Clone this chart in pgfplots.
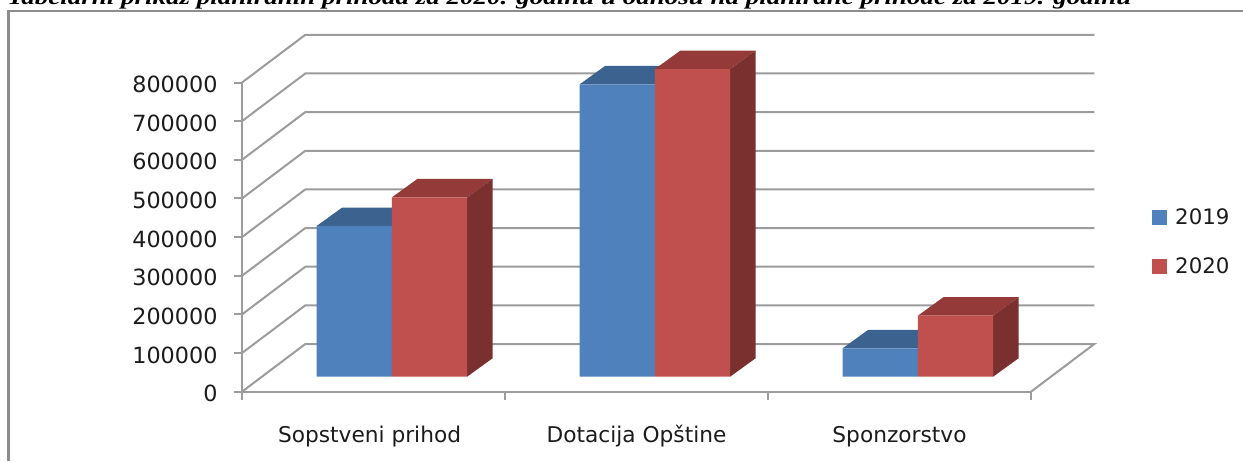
\documentclass[border=0pt]{standalone}
\usepackage{fontspec}
\setmainfont{DejaVu Sans}
\newfontfamily\titlefont{Liberation Serif}
\usepackage{pgfplots}
\pgfplotsset{compat=1.18}

\definecolor{blueface}{HTML}{4F81BD}
\definecolor{bluetop}{HTML}{3C6290}
\definecolor{redface}{HTML}{C0504D}
\definecolor{redtop}{HTML}{943B39}
\definecolor{redside}{HTML}{7A302E}
\definecolor{gridgray}{HTML}{9C9C9C}
\definecolor{inkgray}{HTML}{1C1C1C}

\begin{document}
\begin{tikzpicture}[x=1pt,y=1pt]
\useasboundingbox (0,0) rectangle (1243,461);
\fill[white] (0,0) rectangle (1243,461);
\draw[gridgray!90!black, line width=2.4pt] (8.5,0) -- (8.5,450) -- (1243,450);
\node[anchor=base west, inner sep=0pt, text=black, xscale=1.25] at (7,456.3)
  {\titlefont\bfseries\itshape\fontsize{21.6}{24}\selectfont Tabelarni prikaz planiranih  prihoda za 2020. godinu u odnosu na planirane  prihode za 2019. godinu};

% walls and value axis
\begin{axis}[
    at={(242pt,69.3pt)}, anchor=south west,
    scale only axis, width=789pt, height=309.2pt,
    xmin=0, xmax=3, ymin=0, ymax=800000,
    clip=false,
    axis lines=left,
    axis line style={-, gridgray, line width=2pt},
    every tick/.style={gridgray, line width=2pt},
    tick align=outside,
    major tick length=8pt,
    ytick={0,100000,...,800000},
    scaled y ticks=false,
    xtick={0.485,1.5,2.5},
    xticklabels={Sopstveni prihod,Dotacija Opštine,Sponzorstvo},
    minor xtick={0,1,2,3},
    minor tick length=8pt,
    major x tick style={draw=none},
    tick label style={font=\fontsize{22.3}{24}\selectfont, text=inkgray},
    xticklabel style={font=\fontsize{21.7}{24}\selectfont, yshift=-23pt, text height=16pt, text depth=5pt},
    yticklabel style={/pgf/number format/fixed, /pgf/number format/1000 sep={},
        /pgf/number format/assume math mode=true, xshift=-13pt, yshift=-2pt},
]
\addplot[gridgray, line width=2pt] coordinates {(0,0) (0.2407,123400) (3.2407,123400) (3,0)};
\addplot[gridgray, line width=2pt] coordinates {(0,100000) (0.2407,223400) (3.2407,223400)};
\addplot[gridgray, line width=2pt] coordinates {(0,200000) (0.2407,323400) (3.2407,323400)};
\addplot[gridgray, line width=2pt] coordinates {(0,300000) (0.2407,423400) (3.2407,423400)};
\addplot[gridgray, line width=2pt] coordinates {(0,400000) (0.2407,523400) (3.2407,523400)};
\addplot[gridgray, line width=2pt] coordinates {(0,500000) (0.2407,623400) (3.2407,623400)};
\addplot[gridgray, line width=2pt] coordinates {(0,600000) (0.2407,723400) (3.2407,723400)};
\addplot[gridgray, line width=2pt] coordinates {(0,700000) (0.2407,823400) (3.2407,823400)};
\addplot[gridgray, line width=2pt] coordinates {(0,800000) (0.2407,923400) (3.2407,923400)};
\end{axis}

% bars: zero sits on the raised floor, depth is 0.0966 across and 47600 up
\begin{axis}[
    at={(242pt,69.3pt)}, anchor=south west,
    scale only axis, width=789pt, height=309.2pt,
    xmin=0, xmax=3, ymin=-38810, ymax=761190,
    clip=false,
    hide axis,
    legend style={draw=none, fill=none, inner sep=0pt, font=\fontsize{21.3}{24}\selectfont, text=inkgray,
        at={(rel axis cs:1.1534,0.6)}, anchor=north west,
        row sep=28pt, /tikz/every odd column/.append style={column sep=6pt}},
    legend cell align=left,
]
% blue tops
\addplot[fill=bluetop, draw=none, forget plot] coordinates {(0.284,390000) (0.570,390000) (0.6666,437600) (0.3806,437600)} -- cycle;
\addplot[fill=bluetop, draw=none, forget plot] coordinates {(1.284,756500) (1.570,756500) (1.6666,804100) (1.3806,804100)} -- cycle;
\addplot[fill=bluetop, draw=none, forget plot] coordinates {(2.284,73500) (2.570,73500) (2.6666,121100) (2.3806,121100)} -- cycle;
% red tops
\addplot[fill=redtop, draw=none, forget plot] coordinates {(0.570,464000) (0.856,464000) (0.9526,511600) (0.6666,511600)} -- cycle;
\addplot[fill=redtop, draw=none, forget plot] coordinates {(1.570,796000) (1.856,796000) (1.9526,843600) (1.6666,843600)} -- cycle;
\addplot[fill=redtop, draw=none, forget plot] coordinates {(2.570,158000) (2.856,158000) (2.9526,205600) (2.6666,205600)} -- cycle;
% red sides
\addplot[fill=redside, draw=none, forget plot] coordinates {(0.856,0) (0.9526,47600) (0.9526,511600) (0.856,464000)} -- cycle;
\addplot[fill=redside, draw=none, forget plot] coordinates {(1.856,0) (1.9526,47600) (1.9526,843600) (1.856,796000)} -- cycle;
\addplot[fill=redside, draw=none, forget plot] coordinates {(2.856,0) (2.9526,47600) (2.9526,205600) (2.856,158000)} -- cycle;
% front faces
\addplot[ybar, bar width=75.2pt, bar shift=-37.6pt, fill=blueface, draw=none,
    legend image code/.code={\fill[blueface] (0pt,-7.5pt) rectangle (15pt,7.5pt);}]
    coordinates {(0.570,390000) (1.570,756500) (2.570,73500)};
\addlegendentry{2019}
\addplot[ybar, bar width=75.2pt, bar shift=37.6pt, fill=redface, draw=none,
    legend image code/.code={\fill[redface] (0pt,-7.5pt) rectangle (15pt,7.5pt);}]
    coordinates {(0.570,464000) (1.570,796000) (2.570,158000)};
\addlegendentry{2020}
\end{axis}
\end{tikzpicture}
\end{document}
